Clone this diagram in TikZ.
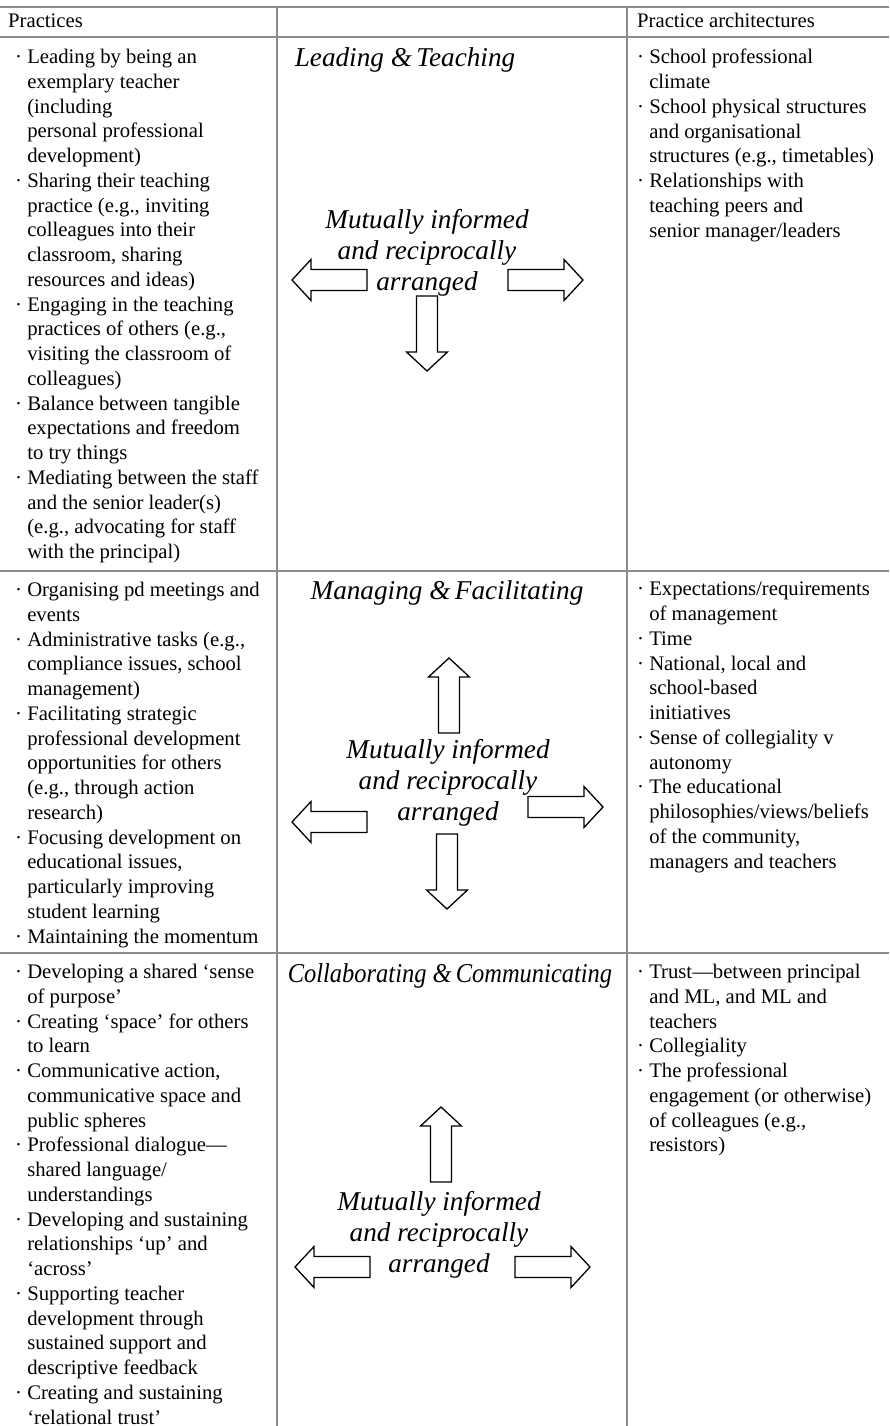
\documentclass[tikz,border=0pt]{standalone}
\usepackage{fontspec}
\setmainfont{Liberation Serif}
\newcommand{\bl}{·\ }
\newcommand{\ct}{\hphantom{·\ }}
\begin{document}
\begin{tikzpicture}[x=1pt,y=-1pt,
  rule/.style={draw=black!45, line width=1.6pt},
  cell/.style={anchor=north west, inner sep=0pt, align=left, font=\fontsize{20.7}{24.75}\selectfont},
  head/.style={anchor=base west, inner sep=0pt, font=\fontsize{20.7}{24.75}\selectfont},
  title/.style={anchor=center, inner sep=0pt, font=\fontsize{27.2}{31}\selectfont\itshape},
  mutual/.style={anchor=center, inner sep=0pt, align=center, font=\fontsize{27.2}{31}\selectfont\itshape},
  barrow/.pic={\draw[black, line width=1.3pt, fill=white, line join=miter]
     (0,0) -- (-19,-20.5) -- (-19,-10.5) -- (-75,-10.5) -- (-75,10.5) -- (-19,10.5) -- (-19,20.5) -- cycle;}
]
\useasboundingbox (0,0) rectangle (889,1426);
\fill[white] (0,0) rectangle (889,1426);

% table rules
\draw[rule] (0,7) -- (889,7);
\draw[rule] (0,37) -- (889,37);
\draw[rule] (0,571) -- (889,571);
\draw[rule] (0,953) -- (889,953);
\draw[rule] (277,7) -- (277,1426);
\draw[rule] (627,7) -- (627,1426);

% header
\node[head] (h1) at (8,28) {Practices};
\node[head] (h3) at (637,28) {Practice architectures};

% row 1
\node[cell] (l1) at (15,49) {\bl Leading by being an\\ \ct exemplary teacher\\ \ct (including\\ \ct personal professional\\ \ct development)\\
\bl Sharing their teaching\\ \ct practice (e.g., inviting\\ \ct colleagues into their\\ \ct classroom, sharing\\ \ct resources and ideas)\\
\bl Engaging in the teaching\\ \ct practices of others (e.g.,\\ \ct visiting the classroom of\\ \ct colleagues)\\
\bl Balance between tangible\\ \ct expectations and freedom\\ \ct to try things\\
\bl Mediating between the staff\\ \ct and the senior leader(s)\\ \ct (e.g., advocating for staff\\ \ct with the principal)};
\node[cell] (r1) at (637,49) {\bl School professional\\ \ct climate\\
\bl School physical structures\\ \ct and organisational\\ \ct structures (e.g., timetables)\\
\bl Relationships with\\ \ct teaching peers and\\ \ct senior manager/leaders};
\node[title] (t1) at (405,60) {Leading \&\,Teaching};
\pic[rotate=180] at (292,280) {barrow};
\pic at (583,280) {barrow};
\pic[rotate=-90] at (427,371) {barrow};
\node[mutual] (m1) at (427,253) {Mutually informed\\and reciprocally\\arranged};

% row 2
\node[cell] (l2) at (15,582) {\bl Organising pd meetings and\\ \ct events\\
\bl Administrative tasks (e.g.,\\ \ct compliance issues, school\\ \ct management)\\
\bl Facilitating strategic\\ \ct professional development\\ \ct opportunities for others\\ \ct (e.g., through action\\ \ct research)\\
\bl Focusing development on\\ \ct educational issues,\\ \ct particularly improving\\ \ct student learning\\
\bl Maintaining the momentum};
\node[cell] (r2) at (637,582) {\bl Expectations/requirements\\ \ct of management\\
\bl Time\\
\bl National, local and\\ \ct school-based\\ \ct initiatives\\
\bl Sense of collegiality v\\ \ct autonomy\\
\bl The educational\\ \ct philosophies/views/beliefs\\ \ct of the community,\\ \ct managers and teachers};
\node[title] (t2) at (447,593) {Managing \&\,Facilitating};
\pic[rotate=90] at (449,658) {barrow};
\pic at (603,807) {barrow};
\pic[rotate=180] at (292,822) {barrow};
\pic[rotate=-90] at (447,909) {barrow};
\node[mutual] (m2) at (448,783) {Mutually informed\\and reciprocally\\arranged};

% row 3
\node[cell] (l3) at (15,964) {\bl Developing a shared ‘sense\\ \ct of purpose’\\
\bl Creating ‘space’ for others\\ \ct to learn\\
\bl Communicative action,\\ \ct communicative space and\\ \ct public spheres\\
\bl Professional dialogue—\\ \ct shared language/\\ \ct understandings\\
\bl Developing and sustaining\\ \ct relationships ‘up’ and\\ \ct ‘across’\\
\bl Supporting teacher\\ \ct development through\\ \ct sustained support and\\ \ct descriptive feedback\\
\bl Creating and sustaining\\ \ct ‘relational trust’};
\node[cell] (r3) at (637,964) {\bl Trust—between principal\\ \ct and ML, and ML and\\ \ct teachers\\
\bl Collegiality\\
\bl The professional\\ \ct engagement (or otherwise)\\ \ct of colleagues (e.g.,\\ \ct resistors)};
\node[title, xscale=0.9, transform shape] (t3) at (450,976) {Collaborating \&\,Communicating};
\pic[rotate=90] at (441,1107) {barrow};
\pic[rotate=180] at (295,1267) {barrow};
\pic at (590,1267) {barrow};
\node[mutual] (m3) at (439,1235) {Mutually informed\\and reciprocally\\arranged};
\end{tikzpicture}
\end{document}
